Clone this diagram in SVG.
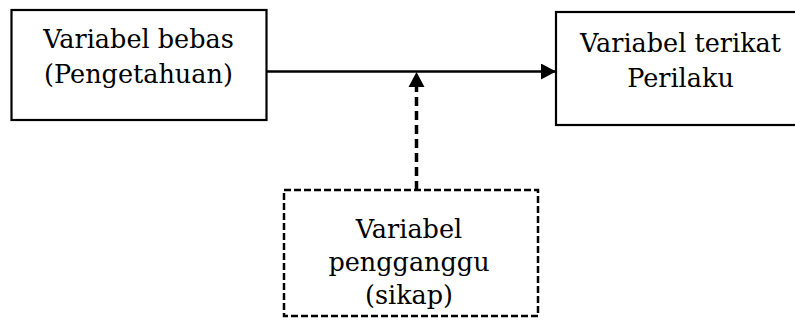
<svg xmlns="http://www.w3.org/2000/svg" width="795" height="320" viewBox="0 0 795 320">
<style>
.box{fill:#fff;stroke:#000;stroke-width:2.2}
.dbox{fill:#fff;stroke:#000;stroke-width:2.5;stroke-dasharray:7 3}
.t{font-family:'DejaVu Serif','Liberation Serif',serif;font-size:25.5px;fill:#000;text-anchor:middle}
.line{stroke:#000;stroke-width:2.5;fill:none}
.dline{stroke:#000;stroke-width:3.5;fill:none;stroke-dasharray:9 5}
</style>
<defs>
<marker id="ah2" markerWidth="15" markerHeight="16" refX="15" refY="8" orient="auto" markerUnits="userSpaceOnUse" viewBox="0 0 15 16">
<path d="M0,0 L15,8 L0,16 Z" fill="#000"/>
</marker>
</defs>
<rect width="795" height="320" fill="#fff"/>
<g id="connectors">
<line class="line" x1="266" y1="71.5" x2="556" y2="71.5" marker-end="url(#ah2)"/>
<line class="dline" x1="416.5" y1="190" x2="416.5" y2="86"/>
<path d="M408.5,87 L416.5,72 L424.5,87 Z" fill="#000"/>
</g>
<g id="node-bebas">
<rect class="box" x="11.5" y="10" width="255" height="110"/>
<text class="t" x="138.5" y="48">Variabel bebas</text>
<text class="t" x="138.5" y="83">(Pengetahuan)</text>
</g>
<g id="node-terikat">
<rect class="box" x="556" y="12" width="250" height="113"/>
<text class="t" x="680.5" y="52">Variabel terikat</text>
<text class="t" x="680.5" y="87">Perilaku</text>
</g>
<g id="node-pengganggu">
<rect class="dbox" x="284" y="190" width="254" height="126"/>
<text class="t" x="409" y="238">Variabel</text>
<text class="t" x="409" y="271">pengganggu</text>
<text class="t" x="409" y="304">(sikap)</text>
</g>
</svg>
